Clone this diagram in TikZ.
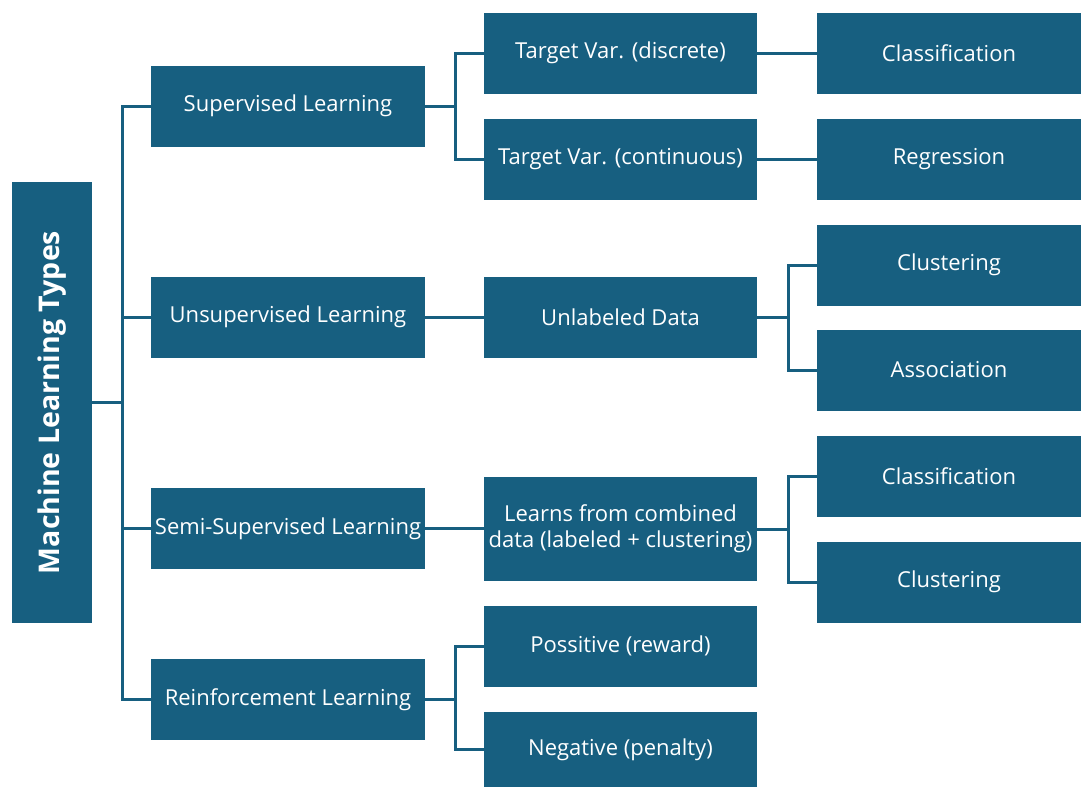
\documentclass[tikz,border=0pt]{standalone}
\usepackage{fontspec}
\setmainfont{Open Sans}
\definecolor{mlblue}{HTML}{175F80}
\begin{document}
\begin{tikzpicture}[x=1pt,y=-1pt,
  box/.style={fill=mlblue,text=white,inner sep=0pt,align=center,font=\fontsize{22}{26}\selectfont},
  lvone/.style={box,minimum width=274pt,minimum height=81pt},
  lvtwo/.style={box,minimum width=273pt,minimum height=81pt},
  lvthree/.style={box,minimum width=264pt,minimum height=81pt},
  link/.style={draw=mlblue,line width=3pt}]
\useasboundingbox (0,0) rectangle (1081,787);
% root
\node[box,minimum width=80pt,minimum height=441pt] (root) at (52,402.5) {};
\node[text=white,rotate=90,font=\fontsize{28.5}{32}\selectfont\bfseries] (roottext) at (root.center) {Machine Learning Types};
% first level
\node[lvone] (sup)   at (288,106) {Supervised Learning};
\node[lvone] (unsup) at (288,317) {Unsupervised Learning};
\node[lvone] (semi)  at (288,528.5) {Semi-Supervised Learning};
\node[lvone] (rein)  at (288,699.5) {Reinforcement Learning};
% second level
\node[lvtwo] (disc)  at (620.5,53) {Target Var. (discrete)};
\node[lvtwo] (cont)  at (620.5,159) {Target Var. (continuous)};
\node[lvtwo] (unlab) at (620.5,317) {Unlabeled Data};
\node[lvtwo,minimum height=104pt] (comb) at (620.5,529) {Learns from combined\\data (labeled + clustering)};
\node[lvtwo] (pos)   at (620.5,646) {Possitive (reward)};
\node[lvtwo,minimum height=75pt] (neg) at (620.5,749.5) {Negative (penalty)};
% third level
\node[lvthree] (cls)   at (949,53) {Classification};
\node[lvthree] (reg)   at (949,159) {Regression};
\node[lvthree] (clu)   at (949,265) {Clustering};
\node[lvthree] (assoc) at (949,370) {Association};
\node[lvthree] (cls2)  at (949,476) {Classification};
\node[lvthree] (clu2)  at (949,582) {Clustering};
% junctions
\coordinate (jroot) at (122,402.5);
\coordinate (jsup)  at (455,106);
\coordinate (jrein) at (455,699.5);
\coordinate (junl)  at (788,317);
\coordinate (jcomb) at (788,529);
% connectors
\draw[link] (root.east) -- (jroot);
\draw[link] (sup.west) -| (jroot) |- (rein.west);
\draw[link] (jroot) |- (unsup.west);
\draw[link] (jroot) |- (semi.west);
\draw[link] (sup.east) -- (jsup);
\draw[link] (disc.west) -| (jsup) |- (cont.west);
\draw[link] (unsup.east) -- (unlab.west);
\draw[link] (semi.east) -- (semi.east -| comb.west);
\draw[link] (rein.east) -- (jrein);
\draw[link] (pos.west) -| (jrein) |- (neg.west);
\draw[link] (disc.east) -- (cls.west);
\draw[link] (cont.east) -- (reg.west);
\draw[link] (unlab.east) -- (junl);
\draw[link] (clu.west) -| (junl) |- (assoc.west);
\draw[link] (comb.east) -- (jcomb);
\draw[link] (cls2.west) -| (jcomb) |- (clu2.west);
\end{tikzpicture}
\end{document}
